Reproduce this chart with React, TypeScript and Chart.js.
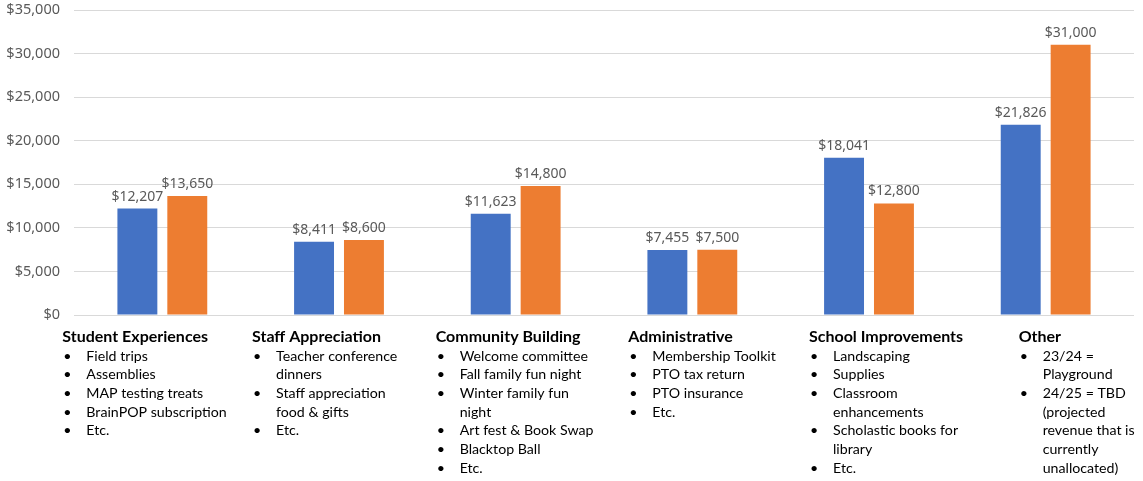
import React, { useEffect, useRef } from "react";
import { Chart, registerables } from "chart.js";

Chart.register(...registerables);

const categories = [
  "Student Experiences",
  "Staff Appreciation",
  "Community Building",
  "Administrative",
  "School Improvements",
  "Other",
];
const series2324 = [12207, 8411, 11623, 7455, 18041, 21826];
const series2425 = [13650, 8600, 14800, 7500, 12800, 31000];
const yTicks = [0, 5000, 10000, 15000, 20000, 25000, 30000, 35000];
const categoryNotes: string[][] = [
  ["Field trips", "Assemblies", "MAP testing treats", "BrainPOP subscription", "Etc."],
  ["Teacher conference\ndinners", "Staff appreciation\nfood & gifts", "Etc."],
  ["Welcome committee", "Fall family fun night", "Winter family fun\nnight", "Art fest & Book Swap", "Blacktop Ball", "Etc."],
  ["Membership Toolkit", "PTO tax return", "PTO insurance", "Etc."],
  ["Landscaping", "Supplies", "Classroom\nenhancements", "Scholastic books for\nlibrary", "Etc."],
  ["23/24 =\nPlayground", "24/25 = TBD\n(projected\nrevenue that is\ncurrently\nunallocated)"],
];

// layout-only offsets of each note block relative to its category centre
const noteOffsets = [-100, -87, -80, -64, -60, -27];

const fmt = (v: number) => "$" + v.toLocaleString("en-US");

const BLUE = "#4472C4";
const ORANGE = "#ED7D31";
const FONT = "'Noto Sans', 'Open Sans', sans-serif";
const NOTE_FONT = "Lato, 'Noto Sans', sans-serif";

const labelsPlugin = {
  id: "valueLabels",
  afterDatasetsDraw(chart: any) {
    const ctx = chart.ctx;
    ctx.save();
    ctx.font = `14px ${FONT}`;
    ctx.fillStyle = "#595959";
    ctx.textAlign = "center";
    ctx.textBaseline = "bottom";
    chart.data.datasets.forEach((ds: any, di: number) => {
      const meta = chart.getDatasetMeta(di);
      meta.data.forEach((bar: any, i: number) => {
        ctx.fillText(fmt(ds.data[i]), bar.x, bar.y - 5);
      });
    });
    ctx.restore();
  },
};

const notesPlugin = {
  id: "categoryNotes",
  afterDraw(chart: any) {
    const ctx = chart.ctx;
    const xs = chart.scales.x;
    const bottom = chart.chartArea.bottom;
    ctx.save();
    ctx.fillStyle = "#000000";
    ctx.textBaseline = "middle";
    ctx.textAlign = "left";
    categories.forEach((cat, i) => {
      const left = xs.getPixelForValue(i) + noteOffsets[i];
      ctx.font = `bold 16px ${NOTE_FONT}`;
      ctx.fillText(cat, left, bottom + 22);
      ctx.font = `14.2px ${NOTE_FONT}`;
      let y = bottom + 41;
      const step = 18.7;
      categoryNotes[i].forEach((item) => {
        const lines = item.split("\n");
        ctx.fillText("•", left + 1, y);
        lines.forEach((ln) => {
          ctx.fillText(ln, left + 24, y);
          y += step;
        });
      });
    });
    ctx.restore();
  },
};

export default function App() {
  const ref = useRef<HTMLCanvasElement>(null);
  useEffect(() => {
    document.body.style.margin = "0";
    const chart = new Chart(ref.current!, {
      type: "bar",
      data: {
        labels: categories,
        datasets: [
          {
            label: "23/24",
            data: series2324,
            backgroundColor: BLUE,
            categoryPercentage: 0.565,
            barPercentage: 0.8,
          },
          {
            label: "24/25",
            data: series2425,
            backgroundColor: ORANGE,
            categoryPercentage: 0.565,
            barPercentage: 0.8,
          },
        ],
      },
      options: {
        animation: false,
        responsive: true,
        maintainAspectRatio: false,
        layout: { padding: { top: 10, right: 9, bottom: 166, left: 0 } },
        plugins: {
          legend: { display: false },
          tooltip: { enabled: false },
        },
        scales: {
          x: {
            grid: { display: false, drawTicks: false },
            border: { display: false },
            ticks: { display: false },
          },
          y: {
            min: 0,
            max: 35000,
            afterBuildTicks: (axis: any) => {
              axis.ticks = yTicks.map((v) => ({ value: v }));
            },
            afterFit: (axis: any) => {
              axis.width = 74;
              axis.paddingTop = 0;
              axis.paddingBottom = 0;
            },
            grid: { color: "#D9D9D9", lineWidth: 1, drawTicks: false },
            border: { display: false },
            ticks: {
              padding: 14,
              color: "#595959",
              font: { family: FONT, size: 14.5 },
              callback: (v: any) => fmt(Number(v)),
            },
          },
        },
      },
      plugins: [labelsPlugin, notesPlugin],
    });
    return () => chart.destroy();
  }, []);
  return (
    <div style={{ width: "1143px", height: "481px", position: "relative", background: "#fff" }}>
      <canvas ref={ref} />
    </div>
  );
}
